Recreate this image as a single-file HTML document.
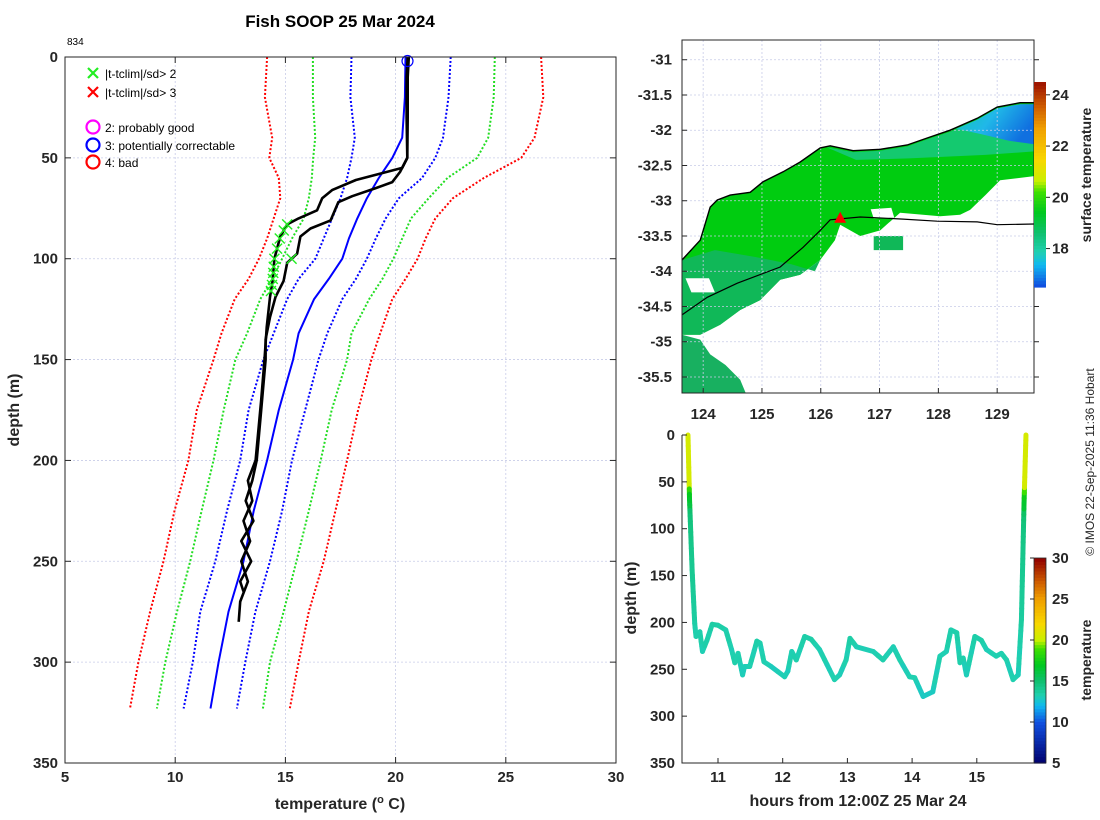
<!DOCTYPE html>
<html><head><meta charset="utf-8"><style>
html,body{margin:0;padding:0;background:#fff;}
svg{display:block;font-family:"Liberation Sans","DejaVu Sans",sans-serif;}
.tk{font-weight:bold;font-size:15px;fill:#262626;}
.ttl{font-weight:bold;font-size:16px;fill:#262626;}
.lg{font-size:12px;fill:#000;}
</style></head><body>
<svg id="fig" width="1100" height="820" viewBox="0 0 1100 820" xmlns="http://www.w3.org/2000/svg">
<rect width="1100" height="820" fill="#fff"/>
<text x="340" y="27" text-anchor="middle" font-weight="bold" font-size="17" fill="#000">Fish SOOP 25 Mar 2024</text>
<text x="67" y="45" font-size="10" fill="#000">834</text>
<g id="left"></g>
<g id="map"></g>
<g id="track"></g>
<text transform="translate(1094,462) rotate(-90)" text-anchor="middle" font-size="12" fill="#262626">© IMOS 22-Sep-2025 11:36 Hobart</text>
</svg>
<script>
// ---------- data: climatology (depth levels) ----------
const climDepth = [0,20,40,50,60,70,80,90,100,110,120,137,150,175,200,225,250,275,300,323];
const climMean  = [20.45,20.42,20.3,19.85,19.24,18.7,18.26,17.88,17.58,16.97,16.3,15.6,15.35,14.7,14.17,13.56,13.1,12.42,11.97,11.6];
const climRedLo = [14.17,14.07,14.4,14.27,14.7,14.77,14.47,14.17,13.8,13.33,12.7,12.1,11.74,10.98,10.6,9.97,9.47,8.86,8.33,7.95];
const climGrnLo = [16.25,16.25,16.35,16.26,16.2,16.06,15.83,15.3,14.85,14.4,13.86,13.26,12.73,12.2,11.74,11.2,10.68,10.08,9.55,9.17];
const climBluLo = [18.0,17.95,18.15,18.0,17.8,17.5,17.12,16.74,16.36,15.6,15.08,14.47,14.0,13.33,12.95,12.35,11.82,11.14,10.8,10.38];
const climBluHi = [22.5,22.4,22.15,21.8,21.2,20.15,19.55,19.1,18.7,18.2,17.58,16.9,16.5,15.9,15.3,14.85,14.3,13.64,13.18,12.8];
const climGrnHi = [24.5,24.45,24.2,23.7,22.35,21.5,20.7,20.3,19.9,19.4,18.8,18.0,17.8,17.1,16.6,16.06,15.5,14.92,14.3,13.98];
const climRedHi = [26.6,26.7,26.3,25.7,24.0,22.6,21.8,21.36,21.0,20.45,19.85,19.3,18.9,18.3,17.8,17.27,16.74,16.06,15.6,15.2];
// ---------- data: observed profiles ----------
const profADepth = [0,10,30,50,55,58,61,66,70,76,80,83,89,100,111,119,134,150,170,200,210,220,230,240,250,260,270,280];
const profATemp  = [20.55,20.5,20.5,20.53,20.3,19.24,18.2,17.12,16.67,16.44,15.6,15.08,14.77,14.5,14.42,14.3,14.15,14.05,13.9,13.65,13.3,13.5,13.1,13.4,13.0,13.3,12.95,12.88];
const profBDepth = [0,10,30,50,57,62,65,69,72,81,85,89,97.5,102,111,119,129,140,150,175,200,210,220,230,240,250,260,265];
const profBTemp  = [20.6,20.55,20.55,20.53,20.2,19.85,19.1,18.03,17.4,17.05,16.14,15.68,15.53,15.08,14.92,14.55,14.3,14.1,14.1,13.9,13.7,13.5,13.2,13.55,13.0,13.45,12.95,13.1];
const flagADepth = [83,86,90,95,100,104,107,110,113,116];
const flagBDepth = [100];
// ---------- data: depth vs time track ----------
const trackHours = [10.536,10.56,10.6,10.64,10.66,10.72,10.76,10.83,10.91,11.0,11.12,11.21,11.26,11.31,11.38,11.41,11.49,11.54,11.6,11.65,11.71,11.82,12.03,12.08,12.14,12.21,12.34,12.44,12.57,12.8,12.88,12.98,13.04,13.14,13.4,13.55,13.71,13.81,13.96,14.04,14.17,14.32,14.43,14.53,14.6,14.69,14.74,14.79,14.84,14.97,15.07,15.15,15.3,15.38,15.46,15.56,15.64,15.69,15.73,15.76];
const trackDepth = [0,69,144,201,215,210,231,219,202,203,208,229,243,233,256,247,247,235,220,222,242,247,258,252,231,240,215,218,229,261,256,240,217,226,231,240,226,240,258,259,279,274,236,231,208,211,243,238,256,215,219,229,236,233,240,261,256,197,73,0];
// ---------- data: map (lon/lat) ----------
const coastLon = [123.64,123.95,124.0,124.12,124.24,124.46,124.80,125.02,125.36,125.65,125.99,126.16,126.55,127.01,127.47,127.81,128.2,128.66,129.0,129.39,129.63];
const coastLat = [-33.84,-33.56,-33.42,-33.09,-32.99,-32.92,-32.88,-32.73,-32.59,-32.45,-32.25,-32.22,-32.29,-32.27,-32.21,-32.11,-32.0,-31.83,-31.67,-31.61,-31.61];
const shelfLon = [123.64,124.07,124.58,125.31,125.70,125.99,126.16,126.67,127.40,127.98,128.66,129.0,129.63];
const shelfLat = [-34.62,-34.37,-34.17,-33.94,-33.66,-33.42,-33.27,-33.23,-33.26,-33.29,-33.30,-33.34,-33.33];
const sstLowLon = [129.63,129.05,128.8,128.54,128.37,128.03,127.35,127.01,126.67,126.33,126.24,125.99,125.65,125.31,124.97,124.63,124.29,123.95,123.64];
const sstLowLat = [-32.65,-32.71,-32.92,-33.13,-33.2,-33.22,-33.17,-33.42,-33.5,-33.34,-33.56,-33.84,-34.05,-34.12,-34.41,-34.55,-34.76,-34.9,-34.9];
const sstSouthLon = [123.64,123.95,124.12,124.38,124.63,124.72,123.64];
const sstSouthLat = [-34.9,-34.97,-35.18,-35.33,-35.54,-35.72,-35.72];
const shipLon = 126.33, shipLat = -33.27;
const tempTicks = [5,10,15,20,25,30];
const depthTicks = [0,50,100,150,200,250,300,350];
const lonTicks = [124,125,126,127,128,129];
const latTicks = [-31,-31.5,-32,-32.5,-33,-33.5,-34,-34.5,-35,-35.5];
const hourTicks = [11,12,13,14,15];
const sstCbTicks = [18,20,22,24];
const tCbTicks = [5,10,15,20,25,30];

const NS = "http://www.w3.org/2000/svg";
function mk(parent, tag, attrs, name){
  const e = document.createElementNS(NS, tag);
  for (const k in attrs) e.setAttribute(k, attrs[k]);
  
  
  parent.appendChild(e); return e;
}
function txt(parent, x, y, s, cls, anchor, name){
  const t = mk(parent,'text',{x:x,y:y,'text-anchor':anchor||'middle','class':cls||'tk'},name);
  t.textContent = s; return t;
}
function interp(xs, ys, v){
  if (v<=xs[0]) return ys[0];
  for (let i=1;i<xs.length;i++) if (v<=xs[i]) { const f=(v-xs[i-1])/(xs[i]-xs[i-1]); return ys[i-1]+f*(ys[i]-ys[i-1]); }
  return ys[ys.length-1];
}
const cstops = [[0,[0,0,110]],[0.2,[16,80,224]],[0.28,[16,184,240]],[0.33,[32,208,176]],[0.4,[16,192,112]],[0.48,[0,200,32]],[0.56,[64,224,0]],[0.6,[200,240,0]],[0.68,[248,216,0]],[0.8,[240,160,0]],[0.88,[208,96,0]],[1,[144,0,0]]];
function cmap(f){
  f=Math.max(0,Math.min(1,f));
  for (let i=1;i<cstops.length;i++) if (f<=cstops[i][0]) { const a=cstops[i-1],b=cstops[i],g=(f-a[0])/(b[0]-a[0]);
    const c=a[1].map((v,j)=>Math.round(v+g*(b[1][j]-v))); return `rgb(${c[0]},${c[1]},${c[2]})`; }
  return 'rgb(144,0,0)';
}

// ================= LEFT PROFILE PLOT =================
(function(){
  const g = document.getElementById('left');
  const X0=65,X1=616,Y0=57,Y1=763;
  const xs = t => X0+(t-5)*(X1-X0)/25;
  const ys = d => Y0+d*(Y1-Y0)/350;
  tempTicks.forEach(t=>{ if(t>5&&t<30) mk(g,'line',{x1:xs(t),x2:xs(t),y1:Y0,y2:Y1,stroke:'#c8cce8','stroke-width':0.8,'stroke-dasharray':'2,2'},'x-gridline'); });
  depthTicks.forEach(d=>{ if(d>0&&d<350) mk(g,'line',{x1:X0,x2:X1,y1:ys(d),y2:ys(d),stroke:'#c8cce8','stroke-width':0.8,'stroke-dasharray':'2,2'},'y-gridline'); });
  function line(dep, tem, color, dash, w, name){
    const p = dep.map((d,i)=>xs(tem[i]).toFixed(1)+','+ys(d).toFixed(1)).join(' ');
    const a = {points:p,fill:'none',stroke:color,'stroke-width':w,'stroke-linejoin':'round'};
    if (dash) a['stroke-dasharray']=dash;
    mk(g,'polyline',a,name);
  }
  line(climDepth, climRedLo, '#ff0000','2,2',2,'clim-minus-3sd');
  line(climDepth, climGrnLo, '#22dd22','2,2',2,'clim-minus-2sd');
  line(climDepth, climBluLo, '#0000ff','2,2',2,'clim-minus-1sd');
  line(climDepth, climMean, '#0000ff',null,2,'clim-mean');
  line(climDepth, climBluHi, '#0000ff','2,2',2,'clim-plus-1sd');
  line(climDepth, climGrnHi, '#22dd22','2,2',2,'clim-plus-2sd');
  line(climDepth, climRedHi, '#ff0000','2,2',2,'clim-plus-3sd');
  line(profADepth, profATemp, '#000',null,2.6,'profile-a');
  line(profBDepth, profBTemp, '#000',null,2.6,'profile-b');
  function flag(d, T){
    const x=xs(T), y=ys(d);
    mk(g,'path',{d:`M${x-5},${y-5}L${x+5},${y+5}M${x-5},${y+5}L${x+5},${y-5}`,stroke:'#22ee22','stroke-width':1.4},'flag-marker');
  }
  flagADepth.forEach(d=>flag(d, interp(profADepth,profATemp,d)));
  flagBDepth.forEach(d=>flag(d, interp(profBDepth,profBTemp,d)));
  mk(g,'circle',{cx:xs(interp(profADepth,profATemp,2)),cy:ys(2),r:5.5,fill:'none',stroke:'#0000ff','stroke-width':1.2},'surface-flag-circle');
  mk(g,'rect',{x:X0,y:Y0,width:X1-X0,height:Y1-Y0,fill:'none',stroke:'#262626','stroke-width':1},'plot-frame');
  tempTicks.forEach(t=>{
    mk(g,'line',{x1:xs(t),x2:xs(t),y1:Y1,y2:Y1-6,stroke:'#262626'},'x-tick');
    mk(g,'line',{x1:xs(t),x2:xs(t),y1:Y0,y2:Y0+6,stroke:'#262626'},'x-tick-top');
    txt(g,xs(t),782,String(t),'tk','middle','x-tick-label');
  });
  depthTicks.forEach(d=>{
    mk(g,'line',{x1:X0,x2:X0+6,y1:ys(d),y2:ys(d),stroke:'#262626'},'y-tick');
    mk(g,'line',{x1:X1,x2:X1-6,y1:ys(d),y2:ys(d),stroke:'#262626'},'y-tick-right');
    txt(g,58,ys(d)+5,String(d),'tk','end','y-tick-label');
  });
  const xt = mk(g,'text',{x:340,y:809,'text-anchor':'middle','class':'ttl'},'x-axis-title');
  xt.innerHTML = 'temperature (<tspan dy="-6" font-size="11">o</tspan><tspan dy="6"> C)</tspan>';
  const yt = mk(g,'text',{transform:'translate(19,410) rotate(-90)','text-anchor':'middle','class':'ttl'},'y-axis-title');
  yt.textContent='depth (m)';
  // legend
  const lg = mk(g,'g',{},'legend');
  const xg = (x,y,c,n)=>mk(lg,'path',{d:`M${x-5},${y-5}L${x+5},${y+5}M${x-5},${y+5}L${x+5},${y-5}`,stroke:c,'stroke-width':2.2},n);
  xg(93,73,'#22ee22','legend-marker-2sd'); txt(lg,105,78,'|t-tclim|/sd> 2','lg','start','legend-entry-2sd');
  xg(93,92,'#ff0000','legend-marker-3sd'); txt(lg,105,97,'|t-tclim|/sd> 3','lg','start','legend-entry-3sd');
  [['#ff00ff','2: probably good',127,'legend-entry-good'],['#0000ff','3: potentially correctable',145,'legend-entry-correctable'],['#ff0000','4: bad',162,'legend-entry-bad']].forEach(r=>{
    mk(lg,'circle',{cx:93,cy:r[2],r:6.5,fill:'none',stroke:r[0],'stroke-width':2.2},r[3]+'-marker');
    txt(lg,105,r[2]+5,r[1],'lg','start',r[3]);
  });
})();

// ================= MAP =================
(function(){
  const g = document.getElementById('map');
  const X0=682,X1=1034,Y0=40,Y1=393;
  const lx = lon => X0+(lon-123.64)*58.8;
  const ly = lat => Y0+(-30.72-lat)*70.5;
  const pts = (lo,la)=>lo.map((v,i)=>lx(v).toFixed(1)+','+ly(la[i]).toFixed(1)).join(' ');
  const defs = mk(g,'defs',{},'map-defs');
  defs.innerHTML = '<linearGradient id="blueg" x1="0" y1="0" x2="1" y2="0.4"><stop offset="0" stop-color="#10c8b0"/><stop offset="0.5" stop-color="#20b8e8"/><stop offset="1" stop-color="#1070e0"/></linearGradient>';
  const mainLon = coastLon.concat(sstLowLon), mainLat = coastLat.concat(sstLowLat);
  mk(g,'polygon',{points:pts(mainLon,mainLat),fill:'#00cc10'},'sst-main');
  mk(g,'polygon',{points:pts([123.64,124.2,124.9,125.5,125.9,125.99,125.65,125.31,124.97,124.63,124.29,123.95,123.64],[-33.84,-33.7,-33.8,-33.9,-34.0,-33.84,-34.05,-34.12,-34.41,-34.55,-34.76,-34.9,-34.9]),fill:'#10b858'},'sst-west-cool');
  mk(g,'polygon',{points:pts(sstSouthLon,sstSouthLat),fill:'#18b060'},'sst-south');
  mk(g,'polygon',{points:pts([126.1,126.55,127.01,127.47,127.81,128.2,128.66,129.0,129.39,129.63,129.63,128.8,127.5,126.6],[-32.24,-32.31,-32.29,-32.23,-32.13,-32.02,-31.85,-31.69,-31.63,-31.63,-32.3,-32.35,-32.4,-32.42]),fill:'#18c880',opacity:0.85},'sst-coastal-band');
  mk(g,'polygon',{points:pts([128.3,128.66,129.0,129.39,129.63,129.63,129.2,128.7],[-31.98,-31.85,-31.69,-31.63,-31.63,-32.2,-32.15,-32.05]),fill:'url(#blueg)'},'sst-cool-patch');
  mk(g,'polygon',{points:pts([126.85,127.2,127.25,126.9],[-33.12,-33.1,-33.24,-33.25]),fill:'#fff'},'sst-gap');
  mk(g,'polygon',{points:pts([123.7,124.1,124.2,123.8],[-34.1,-34.1,-34.3,-34.3]),fill:'#fff'},'sst-gap-west');
  mk(g,'polygon',{points:pts([126.9,127.4,127.4,126.9],[-33.5,-33.5,-33.7,-33.7]),fill:'#10b858'},'sst-patch-east');
  lonTicks.forEach(v=>mk(g,'line',{x1:lx(v),x2:lx(v),y1:Y0,y2:Y1,stroke:'#c8cce8','stroke-width':0.8,'stroke-dasharray':'2,2'},'lon-gridline'));
  latTicks.forEach(v=>mk(g,'line',{x1:X0,x2:X1,y1:ly(v),y2:ly(v),stroke:'#c8cce8','stroke-width':0.8,'stroke-dasharray':'2,2'},'lat-gridline'));
  mk(g,'polyline',{points:pts(coastLon,coastLat),fill:'none',stroke:'#000','stroke-width':1.4},'coastline');
  mk(g,'polyline',{points:pts(shelfLon,shelfLat),fill:'none',stroke:'#000','stroke-width':1.2},'shelf-contour');
  const sx=lx(shipLon), sy=ly(shipLat);
  mk(g,'polygon',{points:`${sx},${sy-8} ${sx-6},${sy+3} ${sx+6},${sy+3}`,fill:'#ff0000'},'ship-position');
  mk(g,'rect',{x:X0,y:Y0,width:X1-X0,height:Y1-Y0,fill:'none',stroke:'#262626'},'map-frame');
  lonTicks.forEach(v=>{ mk(g,'line',{x1:lx(v),x2:lx(v),y1:Y1,y2:Y1-5,stroke:'#262626'},'lon-tick'); txt(g,lx(v),419,String(v),'tk','middle','lon-tick-label'); });
  latTicks.forEach(v=>{ mk(g,'line',{x1:X0,x2:X0+5,y1:ly(v),y2:ly(v),stroke:'#262626'},'lat-tick'); mk(g,'line',{x1:X1,x2:X1+5,y1:ly(v),y2:ly(v),stroke:'#262626'},'lat-tick-right'); txt(g,672,ly(v)+5,String(v),'tk','end','lat-tick-label'); });
  const cb0=16.5, cb1=24.5, cy0=287, cy1=82;
  const cby = v => cy0+(v-cb0)*(cy1-cy0)/(cb1-cb0);
  for (let i=0;i<64;i++){ const v0=cb0+i*(cb1-cb0)/64, v1=v0+(cb1-cb0)/64;
    mk(g,'rect',{x:1034,y:cby(v1),width:12,height:cby(v0)-cby(v1)+0.6,fill:cmap(0.2+0.8*(v0-cb0)/(cb1-cb0)*0.98)},'sst-colorbar-cell'); }
  sstCbTicks.forEach(v=>{ mk(g,'line',{x1:1046,x2:1050,y1:cby(v),y2:cby(v),stroke:'#262626'},'sst-colorbar-tick'); txt(g,1052,cby(v)+5,String(v),'tk','start','sst-colorbar-label'); });
  const t = mk(g,'text',{transform:'translate(1091,175) rotate(-90)','text-anchor':'middle','class':'ttl'},'sst-colorbar-title'); t.textContent='surface temperature';
  t.setAttribute('style','font-size:14px');
})();

// ================= DEPTH-TIME TRACK =================
(function(){
  const g = document.getElementById('track');
  const X0=682,X1=1034,Y0=435,Y1=763;
  const hx = h => 718+(h-11)*64.7;
  const dy = d => Y0+d*(Y1-Y0)/350;
  const tmin=5,tmax=30;
  const col = T => cmap((T-tmin)/(tmax-tmin));
  for (let i=1;i<trackHours.length;i++){
    const n = Math.max(1, Math.ceil(Math.abs(trackDepth[i]-trackDepth[i-1])/6));
    for (let k=0;k<n;k++){
      const a=k/n, b=(k+1)/n;
      const h0=trackHours[i-1]+(trackHours[i]-trackHours[i-1])*a, h1=trackHours[i-1]+(trackHours[i]-trackHours[i-1])*b;
      const d0=trackDepth[i-1]+(trackDepth[i]-trackDepth[i-1])*a, d1=trackDepth[i-1]+(trackDepth[i]-trackDepth[i-1])*b;
      const T = interp(profADepth,profATemp,(d0+d1)/2);
      mk(g,'line',{x1:hx(h0),y1:dy(d0),x2:hx(h1),y2:dy(d1),stroke:col(T),'stroke-width':5,'stroke-linecap':'round'},'track-segment');
    }
  }
  mk(g,'path',{d:`M${X0},${Y0}L${X0},${Y1}L${X1},${Y1}`,fill:'none',stroke:'#262626'},'track-axes');
  hourTicks.forEach(h=>{ mk(g,'line',{x1:hx(h),x2:hx(h),y1:Y1,y2:Y1-5,stroke:'#262626'},'hour-tick'); txt(g,hx(h),782,String(h),'tk','middle','hour-tick-label'); });
  depthTicks.forEach(d=>{ mk(g,'line',{x1:X0,x2:X0+5,y1:dy(d),y2:dy(d),stroke:'#262626'},'depth-tick'); txt(g,675,dy(d)+5,String(d),'tk','end','depth-tick-label'); });
  txt(g,858,806,'hours from 12:00Z 25 Mar 24','ttl','middle','track-x-title');
  const yt = mk(g,'text',{transform:'translate(636,598) rotate(-90)','text-anchor':'middle','class':'ttl'},'track-y-title'); yt.textContent='depth (m)';
  const cy0=763, cy1=558;
  const cby = v => cy0+(v-tmin)*(cy1-cy0)/(tmax-tmin);
  for (let i=0;i<64;i++){ const v0=tmin+i*(tmax-tmin)/64, v1=v0+(tmax-tmin)/64;
    mk(g,'rect',{x:1034,y:cby(v1),width:12,height:cby(v0)-cby(v1)+0.6,fill:col((v0+v1)/2)},'temp-colorbar-cell'); }
  mk(g,'rect',{x:1034,y:cy1,width:12,height:cy0-cy1,fill:'none',stroke:'#262626','stroke-width':0.8},'temp-colorbar-frame');
  tCbTicks.forEach(v=>{ mk(g,'line',{x1:1034,x2:1030,y1:cby(v),y2:cby(v),stroke:'#262626'},'temp-colorbar-tick'); txt(g,1052,cby(v)+5,String(v),'tk','start','temp-colorbar-label'); });
  const t = mk(g,'text',{transform:'translate(1091,660) rotate(-90)','text-anchor':'middle','class':'ttl'},'temp-colorbar-title'); t.textContent='temperature';
  t.setAttribute('style','font-size:14px');
})();
</script>
</body></html>
